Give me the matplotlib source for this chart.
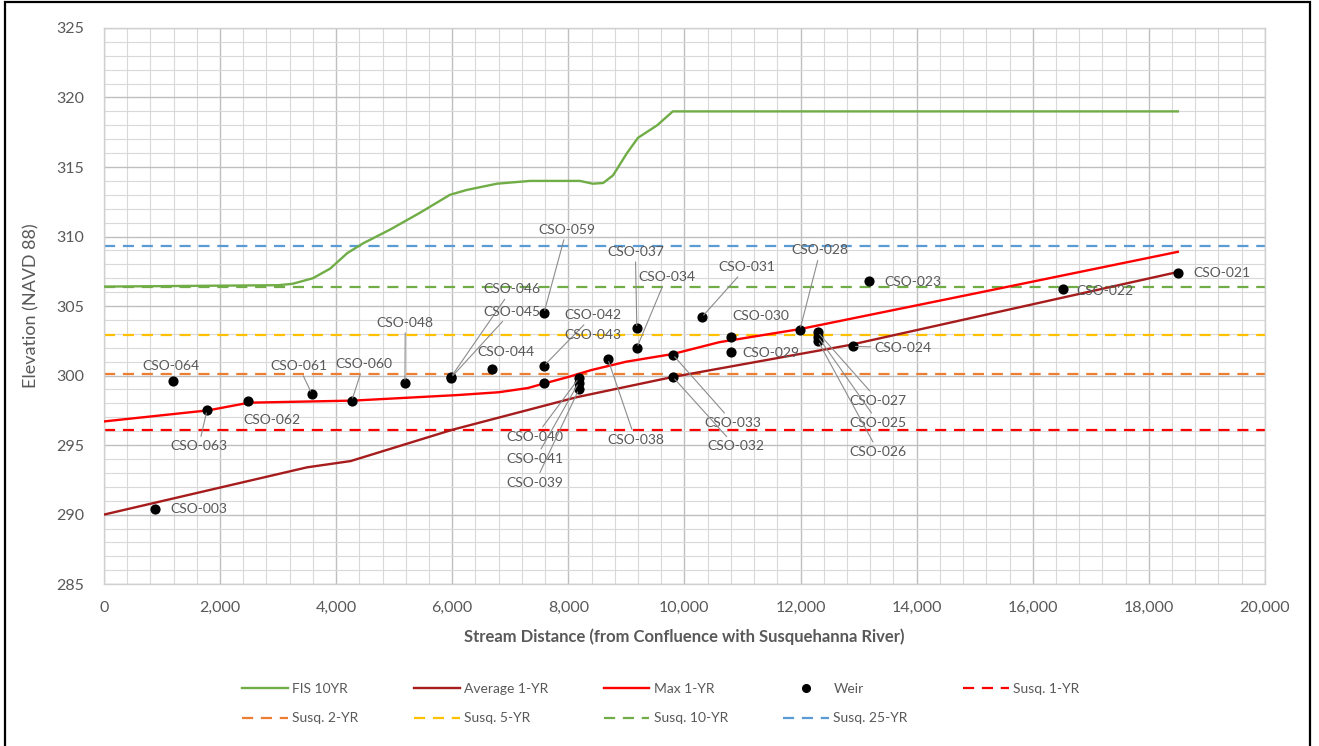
import matplotlib
matplotlib.use("Agg")
import matplotlib.pyplot as plt
from matplotlib.lines import Line2D
from matplotlib.patches import Rectangle
from matplotlib.ticker import MultipleLocator, FuncFormatter

plt.rcParams['font.family'] = ['Lato', 'DejaVu Sans']

# FIS 10YR profile
fis_x = [0, 3000, 3250, 3600, 3900, 4190, 4460, 4930, 5440, 5960, 6250, 6770,
         7340, 8200, 8420, 8600, 8770, 9010, 9200, 9530, 9800, 18500]
fis_y = [306.4, 306.5, 306.6, 307.0, 307.7, 308.8, 309.5, 310.5, 311.7, 313.0, 313.35, 313.8,
         314.0, 314.0, 313.8, 313.85, 314.4, 316.0, 317.1, 318.0, 319.0, 319.0]

# Average 1-YR profile
avg_x = [0, 3500, 4250, 6000, 8150, 9800, 12850, 18500]
avg_y = [290.0, 293.4, 293.85, 296.1, 298.45, 299.9, 302.2, 307.45]

# Max 1-YR profile
max_x = [0, 1800, 2500, 4300, 6100, 6800, 7300, 7600, 8000, 8400, 9000, 9800,
         10600, 12000, 15000, 18500]
max_y = [296.7, 297.5, 298.05, 298.2, 298.6, 298.8, 299.1, 299.45, 299.9, 300.4, 301.0, 301.55,
         302.4, 303.35, 305.9, 308.9]

# Susquehanna flood elevations
susq_names = ['Susq. 1-YR', 'Susq. 2-YR', 'Susq. 5-YR', 'Susq. 10-YR', 'Susq. 25-YR']
susq_elev = [296.05, 300.1, 302.9, 306.4, 309.3]
susq_colors = ['#FF0000', '#ED7D31', '#FFC000', '#70AD47', '#5B9BD5']

# Weirs
weir_names = ['CSO-003', 'CSO-064', 'CSO-063', 'CSO-062', 'CSO-061', 'CSO-060', 'CSO-048',
              'CSO-046', 'CSO-045', 'CSO-044', 'CSO-059', 'CSO-042', 'CSO-043',
              'CSO-040', 'CSO-041', 'CSO-039', 'CSO-038', 'CSO-037', 'CSO-034',
              'CSO-033', 'CSO-032', 'CSO-031', 'CSO-030', 'CSO-029', 'CSO-028',
              'CSO-027', 'CSO-025', 'CSO-026', 'CSO-024', 'CSO-023', 'CSO-022', 'CSO-021']
weir_x = [880, 1190, 1775, 2480, 3580, 4270, 5185,
          5980, 5980, 6685, 7580, 7580, 7580,
          8180, 8180, 8180, 8680, 9180, 9180,
          9800, 9800, 10300, 10800, 10800, 11990,
          12300, 12300, 12300, 12900, 13180, 16520, 18500]
weir_y = [290.4, 299.6, 297.5, 298.2, 298.7, 298.2, 299.5,
          299.9, 299.85, 300.5, 304.5, 300.7, 299.5,
          299.8, 299.5, 299.0, 301.2, 303.4, 302.0,
          301.5, 299.9, 304.2, 302.8, 301.7, 303.3,
          303.1, 302.8, 302.5, 302.1, 306.8, 306.2, 307.4]

# label placement (data coords) and whether a leader line is drawn
label_x = [1140, 670, 1140, 2395, 2860, 3980, 4700,
           6530, 6530, 6430, 7480, 7940, 7940,
           6940, 6940, 6940, 8665, 8665, 9200,
           10350, 10390, 10580, 10820, 10990, 11850,
           12850, 12850, 12850, 13280, 13450, 16760, 18760]
label_y = [290.4, 300.7, 294.9, 296.8, 300.7, 300.8, 303.8,
           306.2, 304.6, 301.7, 310.5, 304.35, 302.9,
           295.6, 294.0, 292.3, 295.4, 308.9, 307.1,
           296.6, 294.9, 307.8, 304.3, 301.6, 309.0,
           298.2, 296.6, 294.5, 302.0, 306.7, 306.1, 307.4]
leader = [False, False, True, False, True, True, True,
          True, True, False, True, True, False,
          True, True, True, True, True, True,
          True, True, True, False, False, True,
          True, True, True, True, False, False, False]

fig = plt.figure(figsize=(13.19, 7.46), dpi=100)
ax = fig.add_axes([0.0788, 0.217, 0.8802, 0.7455])

grey = '#595959'
ax.plot(fis_x, fis_y, color='#70AD47', lw=1.7, label='FIS 10YR', zorder=3)
ax.plot(avg_x, avg_y, color='#A61C1C', lw=1.7, label='Average 1-YR', zorder=3)
ax.plot(max_x, max_y, color='#FF0000', lw=1.7, label='Max 1-YR', zorder=3)
for name, elev, c in zip(susq_names, susq_elev, susq_colors):
    ax.axhline(elev, color=c, lw=1.6, ls=(0, (5, 3.5)), label=name, zorder=2)
ax.scatter(weir_x, weir_y, s=40, color='black', zorder=5, label='Weir')

for name, px, py, tx, ty, ld in zip(weir_names, weir_x, weir_y, label_x, label_y, leader):
    if ld:
        ax.annotate(name, xy=(px, py), xytext=(tx, ty), fontsize=10, color=grey,
                    va='center', ha='left', zorder=6,
                    arrowprops=dict(arrowstyle='-', color='#8C8C8C', lw=0.8,
                                    shrinkA=1, shrinkB=2))
    else:
        ax.text(tx, ty, name, fontsize=10, color=grey, va='center', ha='left', zorder=6)

ax.set_xlim(0, 20000)
ax.set_ylim(285, 325)
ax.xaxis.set_major_locator(MultipleLocator(2000))
ax.xaxis.set_minor_locator(MultipleLocator(400))
ax.yaxis.set_major_locator(MultipleLocator(5))
ax.yaxis.set_minor_locator(MultipleLocator(1))
ax.xaxis.set_major_formatter(FuncFormatter(lambda v, p: f'{int(v):,}'))
ax.grid(which='major', color='#BFBFBF', lw=1.0)
ax.grid(which='minor', color='#D9D9D9', lw=0.8)
ax.set_axisbelow(True)
ax.tick_params(which='both', length=0, labelsize=11.5, labelcolor=grey)
ax.tick_params(axis='x', pad=12)
ax.tick_params(axis='y', pad=14)
for s in ax.spines.values():
    s.set_color('#D0D0D0')
    s.set_linewidth(1.0)

ax.set_xlabel('Stream Distance (from Confluence with Susquehanna River)', fontsize=12,
              fontweight='bold', color=grey, labelpad=10)
ax.set_ylabel('Elevation (NAVD 88)', fontsize=13, color=grey, labelpad=12)

# legend, reordered so it reads row by row
h, l = ax.get_legend_handles_labels()
lut = dict(zip(l, h))
lut['Weir'] = Line2D([], [], marker='o', ls='none', color='black', markersize=5.5)
order = ['FIS 10YR', 'Susq. 2-YR', 'Average 1-YR', 'Susq. 5-YR', 'Max 1-YR', 'Susq. 10-YR',
         'Weir', 'Susq. 25-YR', 'Susq. 1-YR']
fig.legend([lut[k] for k in order], order, ncol=5, frameon=False, loc='upper left',
           bbox_to_anchor=(242 / 1319, 1 - 683 / 746), borderpad=0, borderaxespad=0,
           fontsize=10, handlelength=3.3, handletextpad=0.3, columnspacing=4.0,
           labelspacing=1.25, labelcolor=grey)

fig.add_artist(Rectangle((5 / 1319, -0.01), 1305 / 1319, 1.01 - 2 / 746,
                         transform=fig.transFigure, fill=False, ec='black', lw=1.6))

fig.savefig('out.png', dpi=100)
